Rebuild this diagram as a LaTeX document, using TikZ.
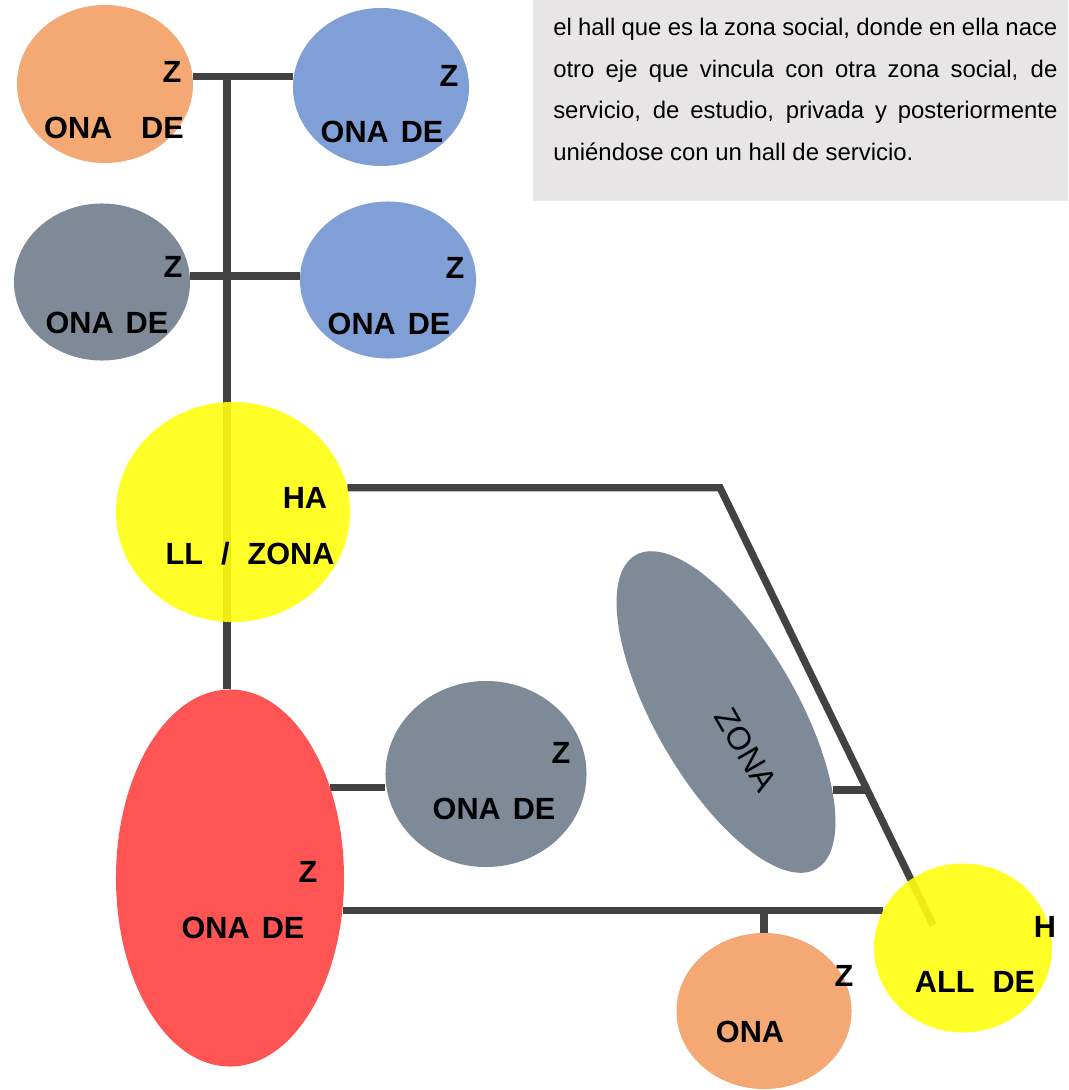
\documentclass[tikz,border=0pt]{standalone}
\usepackage{fontspec}
\setmainfont{Liberation Sans}
\usepackage{xcolor}
\usepackage{tikz}
\usetikzlibrary{shapes.geometric,positioning,calc,backgrounds}

\definecolor{zorange}{HTML}{F4A874}
\definecolor{zblue}{HTML}{7F9FD6}
\definecolor{zgray}{HTML}{7F8A99}
\definecolor{zred}{HTML}{FF5454}
\definecolor{zyellow}{HTML}{FFFF10}
\definecolor{linkgray}{HTML}{424242}
\definecolor{notegray}{HTML}{E7E5E6}

\begin{document}
\begin{tikzpicture}[
    x=0.025cm, y=-0.025cm,
    zone/.style={ellipse, fill=#1, inner sep=0pt},
    zone/.default=zgray,
    hallzone/.style={zone=zyellow, fill opacity=0.9},
    lbl/.style={inner sep=0pt, font=\fontsize{21.8}{24}\selectfont\bfseries},
    link/.style={draw=linkgray, line width=5.2pt}
]
    \useasboundingbox (0,0) rectangle (1068,1090);

    % Note
    \node[fill=notegray, anchor=north west, inner sep=0pt, minimum width=13.375cm, minimum height=5.025cm] (note) at (533,0) {};
    \node[anchor=north west, inner sep=0pt, text width=12.6cm, align=justify, font=\fontsize{17}{29.5}\selectfont] (noteText) at (553,18)
        {\hyphenpenalty=10000 el hall que es la zona social, donde en ella nace\linebreak
         otro eje que vincula con otra zona social, de\linebreak
         servicio, de estudio, privada y posteriormente\linebreak
         uniéndose con un hall de servicio.};

    % Upper zones
    \node[zone=zorange, minimum width=4.4cm, minimum height=3.95cm] (orangeA) at (105,84) {};
    \node[zone=zblue, minimum width=4.4cm, minimum height=3.95cm] (blueA) at (381,87) {};
    \node[zone, minimum width=4.4cm, minimum height=3.925cm] (grayA) at (102,282) {};
    \node[zone=zblue, minimum width=4.4cm, minimum height=3.925cm] (blueB) at (388,280) {};

    % Halls
    \node[hallzone, minimum width=5.85cm, minimum height=5.5cm] (hallS) at (233,512) {};
    \node[hallzone, minimum width=4.45cm, minimum height=4.225cm] (hallD) at (963,948) {};

    % Lower zones
    \node[zone=zred, minimum width=5.7cm, minimum height=9.425cm] (redZ) at (230,878) {};
    \node[zone, minimum width=5.025cm, minimum height=4.65cm] (grayB) at (486,774) {};
    \node[zone, rotate=-60, minimum width=9.05cm, minimum height=3.55cm] (zonaR) at (726,712) {};
    \node[zone=zorange, minimum width=4.375cm, minimum height=3.9cm] (orangeB) at (764,1011) {};

    % Labels
    \node[lbl] (orangeA-z) at (172,72) {Z};
    \node[lbl] (orangeA-t) at (114,128) {ONA\hspace{0.72cm}DE};
    \node[lbl] (blueA-z) at (449,76) {Z};
    \node[lbl] (blueA-t) at (382,132) {ONA\hspace{0.3cm}DE};
    \node[lbl] (grayA-z) at (173,267) {Z};
    \node[lbl] (grayA-t) at (107,323) {ONA\hspace{0.3cm}DE};
    \node[lbl] (blueB-z) at (455,268) {Z};
    \node[lbl] (blueB-t) at (389,324) {ONA\hspace{0.3cm}DE};
    \node[lbl] (hallS-a) at (305,498) {HA};
    \node[lbl] (hallS-t) at (250,554) {LL\hspace{0.45cm}/\hspace{0.45cm}ZONA};
    \node[lbl] (redZ-z) at (308,872) {Z};
    \node[lbl] (redZ-t) at (243,928) {ONA\hspace{0.3cm}DE};
    \node[lbl] (grayB-z) at (561,753) {Z};
    \node[lbl] (grayB-t) at (494,809) {ONA\hspace{0.3cm}DE};
    \node[lbl, font=\fontsize{23}{26}\selectfont, rotate=-60] (zonaR-t) at (746,750) {ZONA};
    \node[lbl] (orangeB-z) at (844,976) {Z};
    \node[lbl] (orangeB-t) at (750,1032) {ONA};
    \node[lbl] (hallD-h) at (1045,927) {H};
    \node[lbl] (hallD-t) at (975,982) {ALL\hspace{0.45cm}DE};

    % Links
    \begin{scope}[on background layer]
        \coordinate (spineTop) at (227,77);
        \coordinate (bend) at (720,488);
        \coordinate (diagEnd) at (933,925);
        \coordinate (zonaJoin) at ($(bend)!0.691!(diagEnd)$);
        \draw[link] (orangeA.5) -- (orangeA.5 -| blueA.west);
        \draw[link] (grayA.4) -- (grayA.4 -| blueB.west);
        \draw[link] (spineTop) -- (spineTop |- redZ.north);
        \draw[link] (hallS.12) -- (hallS.12 -| bend) -- (diagEnd);
        \draw[link] (zonaJoin) -- (zonaJoin -| zonaR.23);
        \draw[link] (redZ.42) -- (redZ.42 -| grayB.west);
        \draw[link] (redZ.-16) -- (redZ.-16 -| hallD.155);
        \draw[link] (orangeB.north |- redZ.-16) -- (orangeB.north);
    \end{scope}

\end{tikzpicture}
\end{document}
